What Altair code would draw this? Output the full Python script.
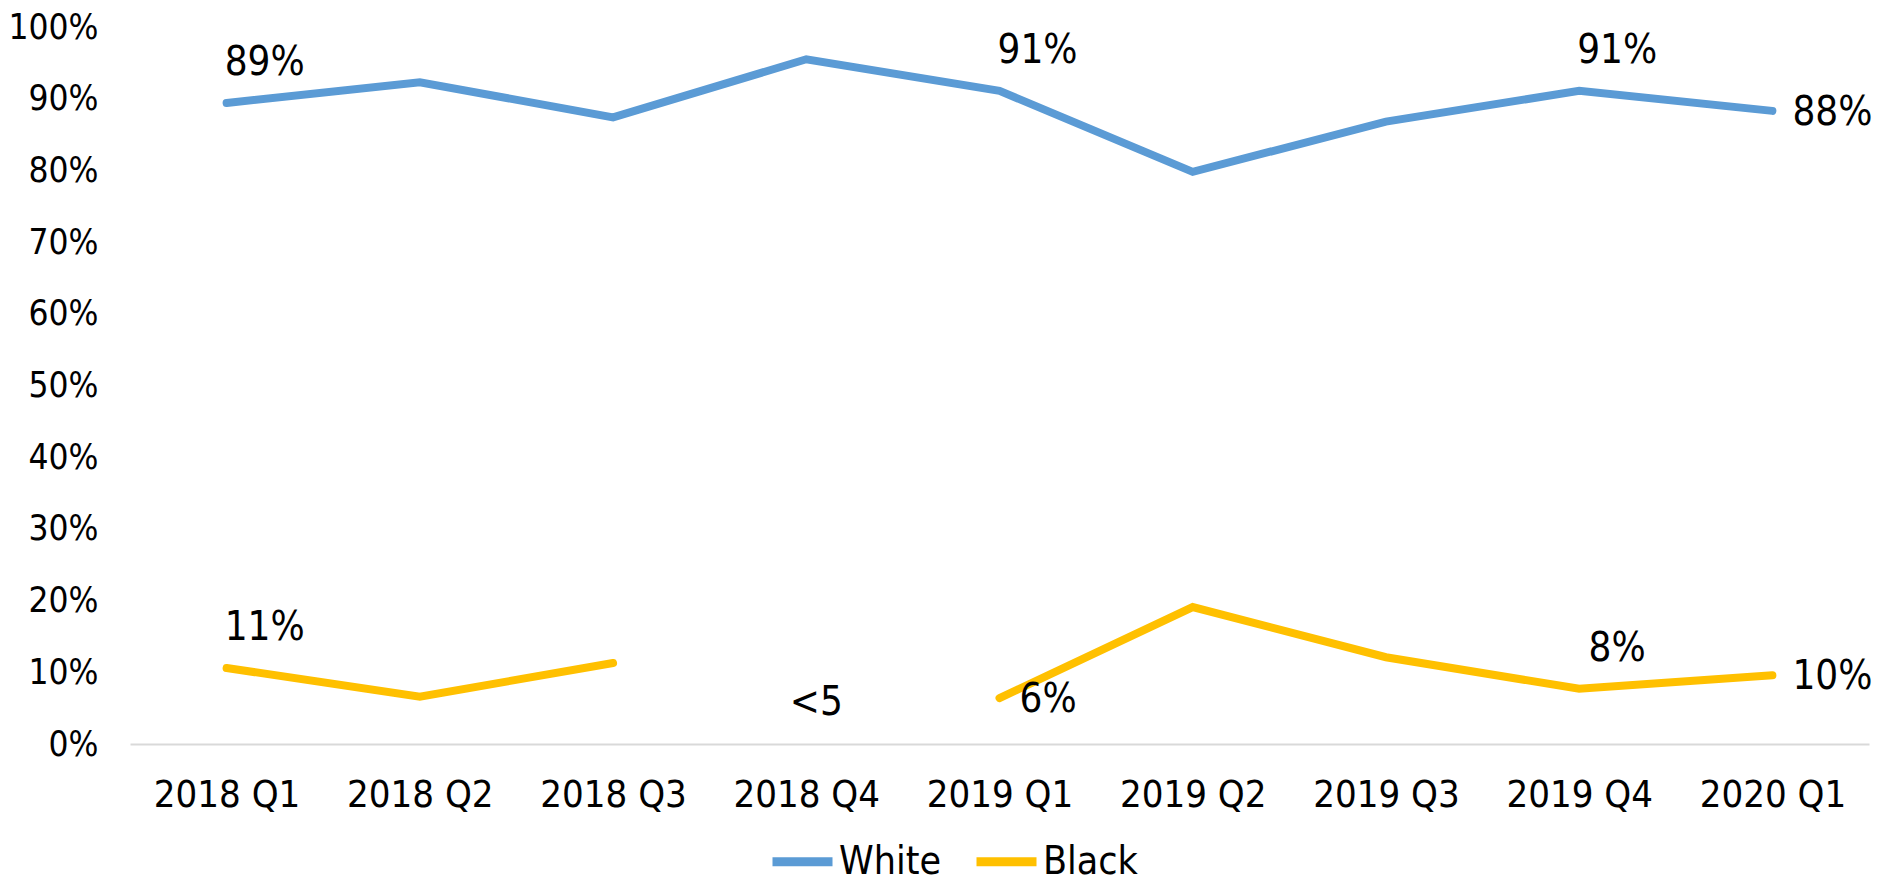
import altair as alt
import pandas as pd

quarters = ["2018 Q1", "2018 Q2", "2018 Q3", "2018 Q4", "2019 Q1",
            "2019 Q2", "2019 Q3", "2019 Q4", "2020 Q1"]
white = [0.894, 0.923, 0.874, 0.955, 0.911, 0.798, 0.868, 0.911, 0.883]
black = [0.106, 0.066, 0.113, None, 0.064, 0.191, 0.121, 0.077, 0.096]
series_names = ["White", "Black"]
series_colors = ["#5B9BD5", "#FFC000"]

# data labels
above_quarters = ["2018 Q1", "2019 Q1", "2019 Q4", "2018 Q1", "2019 Q4"]
above_values = [0.894, 0.911, 0.911, 0.106, 0.077]
above_texts = ["89%", "91%", "91%", "11%", "8%"]
right_quarters = ["2020 Q1", "2019 Q1", "2020 Q1"]
right_values = [0.883, 0.064, 0.096]
right_texts = ["88%", "6%", "10%"]
gap_quarters = ["2018 Q4"]
gap_values = [0.0]
gap_texts = ["<5"]

FONT = "DejaVu Sans Condensed, DejaVu Sans, sans-serif"

rows = []
for q, w, b in zip(quarters, white, black):
    rows.append({"quarter": q, "series": "White", "value": w})
    rows.append({"quarter": q, "series": "Black", "value": b})
df = pd.DataFrame(rows)

df_above = pd.DataFrame({"quarter": above_quarters, "value": above_values, "text": above_texts})
df_right = pd.DataFrame({"quarter": right_quarters, "value": right_values, "text": right_texts})
df_gap = pd.DataFrame({"quarter": gap_quarters, "value": gap_values, "text": gap_texts})

x_enc = alt.X(
    "quarter:N",
    sort=quarters,
    scale=alt.Scale(type="point", padding=0.5),
    axis=alt.Axis(
        title=None, labelAngle=0, ticks=False, domainColor="#D9D9D9",
        domainWidth=2, labelFontSize=38, labelFont=FONT, labelColor="#000000",
        labelPadding=32,
    ),
)
y_scale = alt.Scale(domain=[0, 1])
y_enc = alt.Y(
    "value:Q",
    scale=y_scale,
    axis=alt.Axis(
        title=None, format=".0%", values=[i / 10 for i in range(11)],
        grid=False, domain=False, ticks=False, labelFontSize=35,
        labelFont=FONT, labelColor="#000000", labelPadding=32,
    ),
)

lines = alt.Chart(df).mark_line(strokeWidth=8, strokeCap="round", strokeJoin="miter").encode(
    x=x_enc,
    y=y_enc,
    color=alt.Color(
        "series:N",
        scale=alt.Scale(domain=series_names, range=series_colors),
        sort=series_names,
        legend=alt.Legend(
            title=None, orient="none", legendX=638, legendY=800, padding=0,
            direction="horizontal", symbolType="stroke", symbolSize=3600,
            symbolStrokeWidth=9, labelFontSize=39, labelFont=FONT,
            labelColor="#000000", labelOffset=2, columnPadding=16,
        ),
    ),
)

def label_layer(data, **kw):
    return alt.Chart(data).mark_text(
        fontSize=40, font=FONT, color="#000000", baseline="middle", **kw
    ).encode(
        x=alt.X("quarter:N", sort=quarters),
        y=alt.Y("value:Q", scale=y_scale),
        text="text:N",
    )

above = label_layer(df_above, align="center", dx=38, dy=-40)
right = label_layer(df_right, align="left", dx=20, dy=2)
gap = label_layer(df_gap, align="center", dx=10, dy=-41)

chart = alt.layer(lines, above, right, gap).properties(
    width=1739,
    height=717,
    background="#ffffff",
    autosize=alt.AutoSizeParams(type="none"),
    padding={"left": 122, "top": 19, "right": 5, "bottom": 139},
).configure_view(stroke=None)

chart.save("out.html", embed_options={"renderer": "svg", "actions": False})
